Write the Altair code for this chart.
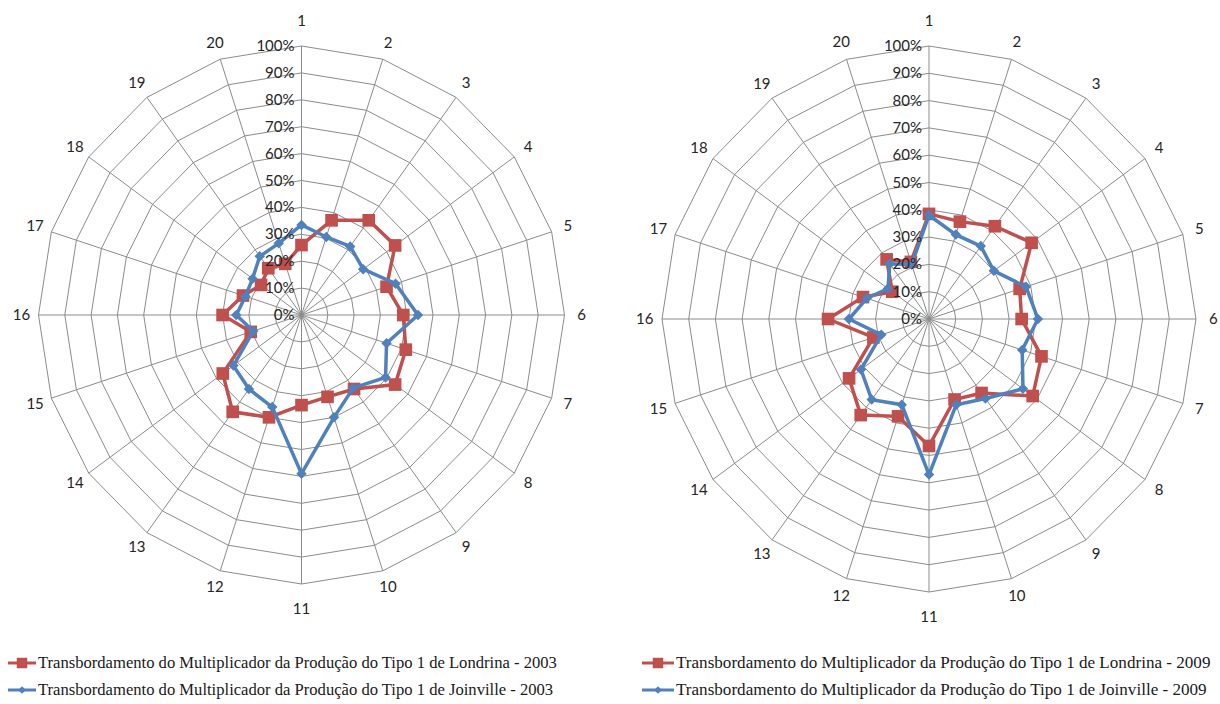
import math
import altair as alt
import pandas as pd

# ---- data -----------------------------------------------------------------
spokes = list(range(1, 21))

londrina_2003 = [26, 37, 43.5, 44, 34, 38.7, 41.7, 44, 34, 32,
                 33.5, 40, 44.5, 37, 20.3, 30, 23.4, 19, 21.5, 20]
joinville_2003 = [33.5, 30.5, 31.5, 29, 37.6, 44.3, 34, 39.5, 33.5, 40,
                  59, 36, 34, 32, 19.3, 24.8, 22.4, 23, 27, 28]

londrina_2009 = [38.5, 37.5, 42, 47.5, 35.7, 34.7, 44.3, 48, 33.5, 31,
                 46.5, 37.5, 43.5, 37, 21.9, 37.8, 26, 17, 27, 22]
joinville_2009 = [38, 32.5, 33, 30, 38.2, 40.8, 36.7, 43.5, 36, 33,
                  57, 33, 36.5, 31.5, 18.8, 30, 24.5, 19, 25, 21]

ring_levels = [0, 10, 20, 30, 40, 50, 60, 70, 80, 90, 100]
ring_labels = ["0%", "10%", "20%", "30%", "40%", "50%",
               "60%", "70%", "80%", "90%", "100%"]

legend_2003 = [
    "Transbordamento do Multiplicador da Produção do Tipo 1 de Londrina - 2003",
    "Transbordamento do Multiplicador da Produção do Tipo 1 de Joinville - 2003",
]
legend_2009 = [
    "Transbordamento do Multiplicador da Produção do Tipo 1 de Londrina - 2009",
    "Transbordamento do Multiplicador da Produção do Tipo 1 de Joinville - 2009",
]

# ---- styling --------------------------------------------------------------
RED = "#C0504D"
BLUE = "#4F81BD"
GRID = "#8C8C8C"
LABEL_FONT = "Lato"
LEGEND_FONT = "Liberation Serif"
PANEL_W, PANEL_H = 610, 704


def angle(i):
    return math.radians(i * 360.0 / len(spokes))


def radar_panel(londrina, joinville, legend_text, cx, cy, rx, ry,
                leg_x, leg_y, leg_gap, leg_len, leg_size):
    kx, ky = rx / 100.0, ry / 100.0  # pixels per percentage point
    xs = alt.Scale(domain=[-cx / kx, (PANEL_W - cx) / kx], nice=False, zero=False)
    ys = alt.Scale(domain=[-(PANEL_H - cy) / ky, cy / ky], nice=False, zero=False)
    X = lambda f: alt.X(f, type="quantitative", scale=xs, axis=None)
    Y = lambda f: alt.Y(f, type="quantitative", scale=ys, axis=None)

    # polygonal grid rings
    rows = []
    for lvl in ring_levels[1:]:
        for i in range(len(spokes) + 1):
            a = angle(i % len(spokes))
            rows.append({"level": lvl, "o": i,
                         "x": lvl * math.sin(a), "y": lvl * math.cos(a)})
    rings = alt.Chart(pd.DataFrame(rows)).mark_line(
        color=GRID, strokeWidth=1).encode(
        x=X("x"), y=Y("y"), detail="level:N", order="o:Q")

    # spokes
    sp = pd.DataFrame([{"x": 0, "y": 0,
                        "x2": 100 * math.sin(angle(i)),
                        "y2": 100 * math.cos(angle(i))}
                       for i in range(len(spokes))])
    spoke_rules = alt.Chart(sp).mark_rule(color=GRID, strokeWidth=1).encode(
        x=X("x"), y=Y("y"), x2="x2:Q", y2="y2:Q")

    def series(values, color, shape, size, width):
        rows = []
        for i in range(len(values) + 1):
            j = i % len(values)
            a = angle(j)
            rows.append({"o": i, "spoke": spokes[j], "v": values[j],
                         "x": values[j] * math.sin(a),
                         "y": values[j] * math.cos(a)})
        df = pd.DataFrame(rows)
        line = alt.Chart(df).mark_line(color=color, strokeWidth=width).encode(
            x=X("x"), y=Y("y"), order="o:Q")
        pts = alt.Chart(df[df.o < len(values)]).mark_point(
            shape=shape, filled=True, opacity=1, color=color, size=size).encode(
            x=X("x"), y=Y("y"))
        return line + pts

    red = series(londrina, RED, "square", 160, 3.5)
    blue = series(joinville, BLUE, "diamond", 110, 3.5)

    # percentage labels along the vertical spoke
    pct = pd.DataFrame({"x": [0] * len(ring_levels), "y": ring_levels,
                        "t": ring_labels})
    pct_text = alt.Chart(pct).mark_text(
        align="right", baseline="middle", dx=-7, font=LABEL_FONT,
        fontSize=15, color="#262626").encode(x=X("x"), y=Y("y"), text="t:N")

    # spoke numbers around the outside
    crow = []
    for i, s in enumerate(spokes):
        a = angle(i)
        r = 106.5 + (2.8 if abs(math.cos(a)) > 0.99 else 0)
        crow.append({"x": r * math.sin(a), "y": r * math.cos(a), "t": str(s)})
    cat_text = alt.Chart(pd.DataFrame(crow)).mark_text(
        align="center", baseline="middle", font=LABEL_FONT,
        fontSize=15, color="#262626").encode(x=X("x"), y=Y("y"), text="t:N")

    # legend block below the radar
    to_x = lambda px: (px - cx) / kx
    to_y = lambda py: (cy - py) / ky
    leg = pd.DataFrame({
        "name": legend_text,
        "y": [to_y(leg_y), to_y(leg_y + leg_gap)],
        "x1": [to_x(leg_x)] * 2,
        "x2": [to_x(leg_x + leg_len)] * 2,
        "xm": [to_x(leg_x + leg_len / 2)] * 2,
        "xt": [to_x(leg_x + leg_len + 2)] * 2,
    })
    leg_layers = []
    for idx, (color, shape, size) in enumerate(
            [(RED, "square", 110), (BLUE, "diamond", 60)]):
        row = leg.iloc[[idx]]
        leg_layers.append(alt.Chart(row).mark_rule(
            color=color, strokeWidth=3).encode(x=X("x1"), x2="x2:Q", y=Y("y")))
        leg_layers.append(alt.Chart(row).mark_point(
            shape=shape, filled=True, opacity=1, color=color, size=size).encode(
            x=X("xm"), y=Y("y")))
        leg_layers.append(alt.Chart(row).mark_text(
            align="left", baseline="middle", font=LEGEND_FONT, fontSize=leg_size,
            color="#1a1a1a").encode(x=X("xt"), y=Y("y"), text="name:N"))

    return alt.layer(rings, spoke_rules, red, blue, pct_text, cat_text,
                     *leg_layers).properties(width=PANEL_W, height=PANEL_H)


left = radar_panel(londrina_2003, joinville_2003, legend_2003,
                   cx=301.5, cy=315, rx=263, ry=269,
                   leg_x=8, leg_y=663, leg_gap=27, leg_len=28, leg_size=16.6)
right = radar_panel(londrina_2009, joinville_2009, legend_2009,
                    cx=319, cy=319, rx=267, ry=273,
                    leg_x=32, leg_y=663, leg_gap=27, leg_len=32, leg_size=17.1)

chart = alt.hconcat(left, right, spacing=0).properties(
    padding=0, background="white"
).configure_view(stroke=None)

chart.save("out.html", embed_options={"renderer": "svg", "actions": False})
